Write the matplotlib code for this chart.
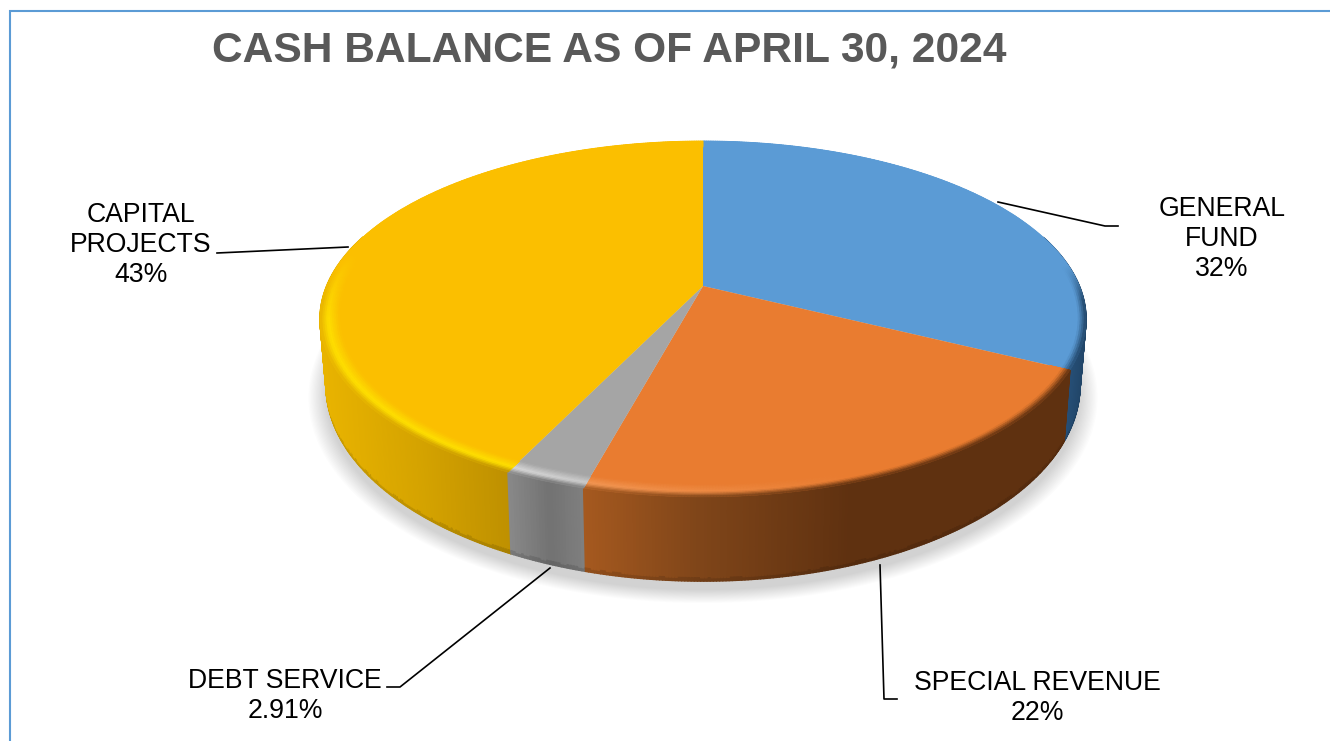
import numpy as np
import matplotlib
matplotlib.use("Agg")
import matplotlib.pyplot as plt
from matplotlib.collections import PolyCollection
from matplotlib.colors import to_rgb
from matplotlib.transforms import Transform

plt.rcParams['font.family'] = ['Liberation Sans', 'DejaVu Sans']

# values, unrounded shares estimated from the slice edges
categories = ['GENERAL\nFUND', 'SPECIAL REVENUE', 'DEBT SERVICE', 'CAPITAL\nPROJECTS']
shares = [32.4, 21.8, 2.91, 42.9]
share_labels = ['32%', '22%', '2.91%', '43%']

face_colors = ['#5B9BD5', '#E97C30', '#A5A5A5', '#FBBF00']
glow_colors = ['#5B9BD5', '#F6A060', '#DADADA', '#FFE000']
# wall shading per slice: (page x, colour) stops
wall_stops = [
    [(1060, '#2A5580'), (1090, '#1F4263')],
    [(585, '#A5591F'), (700, '#7F4519'), (850, '#5F3110'), (1070, '#5F3110')],
    [(510, '#888888'), (550, '#727272'), (585, '#808080')],
    [(325, '#E8B300'), (420, '#D5A300'), (510, '#BE9000')],
]


class DiskToPage(Transform):
    # tilted disk: unit circle -> page pixels with perspective
    input_dims = 2
    output_dims = 2
    is_separable = False
    has_inverse = False

    def __init__(self, cx, cy, sx, sy, k=0.185):
        super().__init__()
        self.cx, self.cy, self.sx, self.sy, self.k = cx, cy, sx, sy, k

    def transform_non_affine(self, values):
        values = np.asarray(values, dtype=float)
        w = 1 + self.k * values[:, 1]
        return np.column_stack([self.cx + self.sx * values[:, 0] / w,
                                self.cy - self.sy * values[:, 1] / w])


top_disk = DiskToPage(703, 286, 376.4, 171.9)
bottom_disk = DiskToPage(703, 349, 370.5, 189.2)


def mix(a, b, t):
    return np.array(a) * (1 - t) + np.array(b) * t


def wall_color(stops, x):
    xs = [s[0] for s in stops]
    rgb = [to_rgb(s[1]) for s in stops]
    return np.array([np.interp(x, xs, [c[i] for c in rgb]) for i in range(3)])


def circle(t, r=1.0):
    return np.column_stack([r * np.cos(t), r * np.sin(t)])


fig = plt.figure(figsize=(13.3, 7.41), dpi=100)
ax = fig.add_axes([0, 0, 1, 1])

# top face, the slices come from pie itself
wedges, _ = ax.pie(shares, colors=face_colors, startangle=90, counterclock=False,
                   wedgeprops={'transform': top_disk + ax.transData, 'linewidth': 0, 'zorder': 5})
ax.set_aspect('auto')
ax.set_xlim(0, 1330)
ax.set_ylim(741, 0)
ax.axis('off')

# soft shadow under the pie
ring = np.linspace(0, 2 * np.pi, 240)
for r in np.linspace(1.045, 1.0, 15):
    pts = bottom_disk.transform_non_affine(circle(ring, r))
    ax.fill(pts[:, 0], pts[:, 1] + 9, color='black', alpha=0.012, lw=0, zorder=1)

wall_polys, wall_cols = [], []
rim_polys, rim_cols = [], []
for i, w in enumerate(wedges):
    t = np.radians(np.arange(w.theta1, w.theta2 + 0.4, 0.4))
    t[-1] = min(t[-1], np.radians(w.theta2))
    for a, b in zip(t[:-1], t[1:]):
        mid = (a + b) / 2
        u, v = np.cos(mid), np.sin(mid)
        seg = np.array([a, b])
        top = top_disk.transform_non_affine(circle(seg))
        base = bottom_disk.transform_non_affine(circle(seg))

        # side wall, darker right at its lower edge
        if v < 0.3:
            col = wall_color(wall_stops[i], top[:, 0].mean())
            levels = [0, 0.96, 1]
            for s0, s1 in zip(levels[:-1], levels[1:]):
                p0, p1 = top + (base - top) * s0, top + (base - top) * s1
                wall_polys.append(np.vstack([p0, p1[::-1]]))
                wall_cols.append(np.append(col * (1 if s0 == 0 else 0.88), v))

        # bevel between face and wall
        face = np.array(to_rgb(face_colors[i]))
        glow = np.array(to_rgb(glow_colors[i]))
        col = wall_color(wall_stops[i], top[:, 0].mean())
        seen = np.clip((0.12 - v) / 0.2, 0, 1)
        lit = np.clip((0.35 - u) / 0.8, 0, 1) * np.clip((0.2 - v) / 0.4, 0, 1)
        edges = np.linspace(0.95, 1.0, 11)
        for r0, r1 in zip(edges[:-1], edges[1:]):
            q = ((r0 + r1) / 2 - 0.95) / 0.05
            if q < 0.6:
                c = mix(face, glow, lit * q / 0.6)
            else:
                c = mix(mix(face, glow, lit), mix(face, col, seen), (q - 0.6) / 0.4)
            p0 = top_disk.transform_non_affine(circle(seg, r0))
            p1 = top_disk.transform_non_affine(circle(seg, r1))
            rim_polys.append(np.vstack([p0, p1[::-1]]))
            rim_cols.append(c)

order = np.argsort([-c[3] for c in wall_cols])
ax.add_collection(PolyCollection([wall_polys[j] for j in order],
                                 facecolors=[wall_cols[j][:3] for j in order],
                                 edgecolors='face', linewidths=1.0, zorder=3))
ax.add_collection(PolyCollection(rim_polys, facecolors=rim_cols, edgecolors='face',
                                 linewidths=0.5, zorder=6))

# frame of the page
ax.plot([9.5, 9.5, 1330], [741, 10.5, 10.5], color='#5B9BD5', lw=1.5, zorder=8,
        solid_joinstyle='miter')

ax.text(609, 50, 'CASH BALANCE AS OF APRIL 30, 2024', fontsize=30.6, fontweight='bold',
        color='#595959', ha='center', va='center', zorder=9)

# labels and leader lines
label_pos = [(1222, 239), (1037, 698), (285, 696), (141, 245)]
leaders = [
    ([998, 1105, 1118], [202, 226, 226]),
    ([880, 884, 897], [565, 699, 699]),
    ([550, 400, 387], [568, 687, 687]),
    ([348, 217], [247, 253]),
]
for name, pct, (x, y), (lx, ly) in zip(categories, share_labels, label_pos, leaders):
    ax.text(x, y, name + '\n' + pct, fontsize=19.2, color='black', ha='center', va='center',
            linespacing=1.22, zorder=9)
    ax.plot(lx, ly, color='black', lw=1.2, zorder=7)

fig.savefig('out.png', dpi=100, facecolor='white')
